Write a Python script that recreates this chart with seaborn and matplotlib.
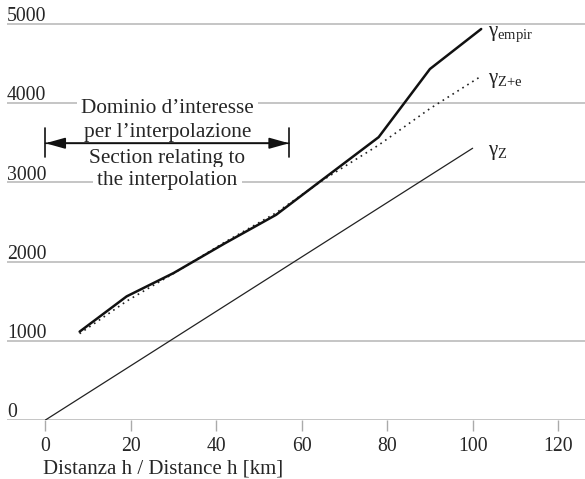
import pandas as pd
import seaborn as sns
import matplotlib.pyplot as plt

# distances [km] and semivariogram values
h_emp = [8, 19, 30, 42, 54, 65, 78, 90, 102]
gamma_emp = [1115, 1560, 1855, 2230, 2590, 3040, 3570, 4430, 4935]
h_ze = [8, 19, 30, 42, 54, 65, 78, 90, 102]
gamma_ze = [1090, 1500, 1850, 2245, 2615, 3030, 3470, 3930, 4340]
h_z = [0, 100]
gamma_z = [0, 3430]

x_ticks = [0, 20, 40, 60, 80, 100, 120]
y_ticks = [0, 1000, 2000, 3000, 4000, 5000]
domain = [0, 57]

sns.set_theme(style='white')
plt.rcParams['font.family'] = ['Liberation Serif', 'DejaVu Serif']
plt.rcParams['mathtext.fontset'] = 'custom'
plt.rcParams['mathtext.rm'] = 'Liberation Serif'
plt.rcParams['mathtext.it'] = 'Liberation Serif:italic'

emp = pd.DataFrame({'h': h_emp, 'gamma': gamma_emp})
ze = pd.DataFrame({'h': h_ze, 'gamma': gamma_ze})
z = pd.DataFrame({'h': h_z, 'gamma': gamma_z})

fig = plt.figure(figsize=(5.85, 4.79), dpi=100)
ax = fig.add_axes([7 / 585, 59 / 479, 578 / 585, 412 / 479])

sns.lineplot(data=z, x='h', y='gamma', ax=ax, color='#222222', lw=0.9, estimator=None, zorder=5)
sns.lineplot(data=ze, x='h', y='gamma', ax=ax, color='#222222', lw=1.2,
             linestyle=(0, (1, 2.5)), estimator=None, zorder=5)
sns.lineplot(data=emp, x='h', y='gamma', ax=ax, color='#111111', lw=1.8, estimator=None, zorder=6)

ax.set_xlim(-9.0, 126.3)
ax.set_ylim(0, 5200)
ax.set_ylabel('')
for s in ax.spines.values():
    s.set_visible(False)

ax.set_yticks(y_ticks)
ax.set_yticklabels([])
ax.tick_params(axis='y', length=0)
ax.grid(axis='y', color='#bbbbbb', lw=1.2)
ax.grid(axis='x', visible=False)
ax.set_xticks(x_ticks)
ax.set_xticklabels([str(t) for t in x_ticks], fontsize=14.2)
ax.tick_params(axis='x', direction='out', length=8, width=1, color='#aaaaaa', pad=4, bottom=True)

for v in y_ticks:
    ax.annotate(str(v), xy=(0, v), xycoords=('axes fraction', 'data'), xytext=(0, 2),
                textcoords='offset points', ha='left', va='baseline', fontsize=14.2)

ax.set_xlabel('Distanza h / Distance h [km]', fontsize=15, ha='left')
ax.xaxis.set_label_coords((43 - 7) / 578, -0.097)

# curve labels
labels = [(gamma_emp[-1] - 60, r'$\mathrm{γ}_{\mathrm{empir}}$'),
          (gamma_ze[-1] - 50, r'$\mathrm{γ}_{\mathrm{Z{+}e}}$'),
          (gamma_z[-1] - 60, r'$\mathrm{γ}_{\mathrm{Z}}$')]
for yv, txt in labels:
    ax.text(103.5, yv, txt, fontsize=15, ha='left', va='center', color='#222222')

# interpolation domain
cx = sum(domain) / 2
texts = [(3872, 'Dominio d’interesse'), (3577, 'per l’interpolazione'),
         (3249, 'Section relating to'), (2967, 'the interpolation')]
for yv, txt in texts:
    ax.text(cx, yv, txt, fontsize=15.3, ha='center', va='baseline', zorder=3,
            bbox=dict(facecolor='white', edgecolor='none', pad=3))
for a, b in [(0, 1), (1, 0)]:
    ax.annotate('', xy=(domain[b], 3493), xytext=(domain[a], 3493), zorder=4,
                arrowprops=dict(arrowstyle='-|>,head_length=1.0,head_width=0.28', lw=1.2,
                                color='#111111', shrinkA=0, shrinkB=0))
for d in domain:
    ax.plot([d, d], [3320, 3690], color='#111111', lw=1.2, zorder=4)

fig.savefig('out.png', dpi=100)
